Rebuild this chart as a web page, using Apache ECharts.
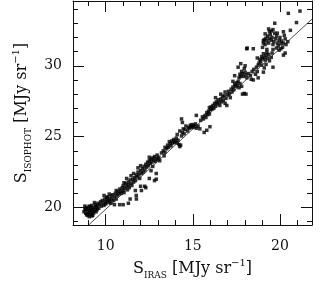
<!DOCTYPE html>
<html>
<head>
<meta charset="utf-8">
<script src="https://cdn.jsdelivr.net/npm/echarts@6/dist/echarts.min.js"></script>
<style>
  html, body { margin: 0; padding: 0; background: #fff; }
  #container { width: 328px; height: 285px; }
</style>
</head>
<body>
<div id="container"></div>
<script>
// axis ranges and ticks
var xRange = [8.12, 21.84];
var yRange = [18.76, 34.57];
var xTickMajor = [10, 15, 20];
var xTickMinor = [9, 11, 12, 13, 14, 16, 17, 18, 19, 21];
var yTickMajor = [20, 25, 30];
var yTickMinor = [19, 21, 22, 23, 24, 26, 27, 28, 29, 31, 32, 33, 34];

// fitted line  S_ISOPHOT = a * S_IRAS + b
var fitSlope = 1.133;
var fitIntercept = 8.55;

// [S_IRAS, S_ISOPHOT]
var points = [
    // low end
    [8.75,19.7],[8.8,19.85],[8.85,19.6],[8.9,20.0],[8.95,19.75],[9.0,19.9],[9.0,19.55],[9.05,20.1],
    [9.1,19.8],[9.1,19.65],[9.15,19.95],[9.2,19.7],[9.2,20.15],[9.25,19.85],[9.3,19.6],[9.3,20.0],
    [9.35,19.75],[9.4,19.9],[9.4,20.2],[9.45,19.7],[9.5,20.05],[9.5,19.85],[9.55,20.3],[8.95,19.45],
    [9.15,19.5],[9.6,19.95],[9.35,20.35],[8.8,20.1],[9.05,19.35],[9.25,19.45],[8.9,19.5],[9.2,19.4],
    [9.45,20.1],[8.85,19.9],[9.1,20.05],
    [9.65,20.2],[9.7,20.4],[9.75,20.1],[9.8,20.5],[9.85,20.3],[9.9,20.15],[9.95,20.6],[10.0,20.4],
    [10.0,20.25],[10.05,20.7],[10.1,20.5],[10.15,20.35],[10.2,20.6],[10.25,20.45],[10.3,20.8],[10.3,20.3],
    [10.35,20.6],[10.4,20.9],[10.45,20.5],[10.5,20.75],[10.55,21.0],[10.6,20.6],[9.9,20.85],[10.2,20.95],
    [10.65,20.85],[10.7,21.1],[10.75,20.95],[10.8,21.3],[10.85,21.15],[10.9,21.0],[10.95,21.4],[11.0,21.2],
    [11.0,21.55],[11.05,21.05],[11.1,21.35],[11.15,21.7],[11.2,21.5],[11.25,21.25],[11.3,21.8],[11.3,21.6],
    [11.35,21.4],[11.4,21.95],[11.45,21.7],[11.5,21.55],[11.55,22.0],[11.6,21.8],[11.2,22.05],[11.45,22.25],
    [11.6,22.4],[10.1,20.75],[10.6,21.2],[11.05,21.75],
    // lower branch
    [10.5,20.2],[10.8,20.2],[11.0,20.2],[11.3,20.3],[11.4,20.6],[11.76,20.6],[11.7,21.2],[12.0,21.5],
    [12.05,21.2],[12.24,21.5],[11.75,20.85],[12.3,21.4],[12.8,21.9],[12.9,22.4],[12.6,22.6],[12.5,22.05],
    [12.9,22.0],
    // middle
    [11.65,22.1],[11.7,21.9],[11.75,22.3],[11.8,22.15],[11.85,22.5],[11.9,22.3],[11.95,22.05],[12.0,22.6],
    [12.05,22.4],[12.1,22.75],[12.15,22.5],[12.2,22.9],[12.25,22.65],[12.3,23.05],[12.35,22.85],[12.4,23.2],
    [12.45,22.95],[12.5,23.3],[12.55,23.1],[12.6,23.4],[11.85,22.8],[12.0,22.95],
    [12.65,23.2],[12.7,23.5],[12.75,23.35],[12.8,23.6],[12.85,23.25],[12.9,23.45],[12.95,23.7],[13.0,23.4],
    [13.05,23.55],[13.1,23.3],[12.7,22.9],[12.5,23.55],
    [13.2,23.85],[13.3,24.0],[13.4,23.9],[13.5,24.15],[13.55,24.4],[13.6,24.25],[13.7,24.5],[13.75,24.35],
    [13.8,24.7],[13.85,24.55],[13.9,24.8],[13.95,24.6],[14.0,24.7],[14.05,24.9],[14.1,24.55],[14.15,24.75],
    [14.2,24.45],[14.25,24.3],[14.3,24.4],[13.4,24.25],[13.65,24.65],[14.1,25.15],[14.25,25.4],[13.35,23.65],
    [14.35,25.05],[14.4,25.3],[14.45,25.55],[14.5,25.2],[14.55,25.5],[14.6,25.75],[14.7,25.4],[14.75,25.65],
    [14.8,25.6],[14.85,25.8],[14.9,25.7],[14.95,25.85],[15.0,25.65],[15.05,25.8],[15.1,25.7],[15.15,25.9],
    [15.2,25.6],[15.3,25.75],[14.4,26.0],[14.35,26.25],[15.4,25.55],[15.65,25.3],[15.8,25.45],[15.98,25.7],
    [15.45,26.15],[15.55,26.4],[15.6,26.25],[15.7,26.5],[15.75,26.35],[15.8,26.7],[15.85,26.55],[15.9,26.8],
    [15.95,26.6],[16.0,26.9],[16.05,27.1],[16.1,26.95],[16.15,27.2],[16.2,27.0],[16.25,27.35],[16.3,27.15],
    [16.35,27.45],[16.4,27.3],[16.45,27.6],[16.5,27.4],[16.55,27.2],[16.6,27.65],[16.65,27.45],[16.7,27.8],
    [16.75,27.55],[16.8,27.9],[16.85,27.35],[16.9,27.7],[16.3,27.75],[15.95,27.05],[16.6,28.0],[16.85,28.15],
    [16.95,27.2],[15.2,26.5],
    // upper middle
    [17.0,27.95],[17.05,28.2],[17.1,28.0],[17.2,28.35],[17.25,28.15],[17.3,28.5],[17.35,28.3],[17.4,28.7],
    [17.45,28.55],[17.5,28.8],[17.55,28.6],[17.6,28.9],[17.65,28.45],[17.7,28.75],[17.8,28.55],[17.85,28.0],
    [17.95,28.05],[17.3,28.9],[17.15,27.75],[18.05,28.0],[18.47,29.0],[17.4,29.3],
    [17.65,29.15],[17.7,29.4],[17.75,29.25],[17.8,29.6],[17.85,29.45],[17.9,29.25],[17.95,29.8],[18.0,29.55],
    [18.05,29.35],[18.1,29.15],[18.2,29.45],[18.3,29.3],[18.4,29.6],[18.5,29.75],[18.6,29.4],[18.65,29.9],
    [18.7,29.6],[18.75,30.05],[18.0,30.0],[17.6,29.9],[18.35,29.05],[18.75,29.15],[17.75,30.15],
    [18.8,30.2],[18.85,30.45],[18.9,30.3],[18.95,30.65],[19.0,30.5],[19.05,30.85],[19.1,30.6],[19.15,30.4],
    [19.2,30.75],[19.25,30.95],[19.3,30.55],[19.35,30.8],[19.4,30.35],[19.5,30.6],[18.95,30.05],[19.2,30.1],
    [19.1,29.85],[19.6,29.9],[19.05,29.55],[18.7,30.55],[19.55,30.9],
    // top
    [19.0,31.3],[19.05,31.6],[19.1,31.85],[19.15,31.5],[19.2,31.95],[19.25,31.75],[19.3,32.1],[19.35,31.6],
    [19.4,31.9],[19.45,32.2],[19.5,31.8],[19.55,32.0],[19.6,31.5],[19.65,31.7],[19.7,32.3],[19.75,31.9],
    [19.8,32.1],[19.85,31.6],[19.9,31.4],[19.95,31.8],[20.0,32.0],[20.05,31.55],[20.1,31.75],[20.15,31.3],
    [20.2,31.6],[20.25,32.15],[20.3,31.9],[19.6,31.15],[19.8,31.25],[19.95,31.1],[20.35,31.5],[19.15,32.25],
    [19.4,32.4],[19.6,32.55],[19.25,31.15],[20.45,31.7],[19.5,32.45],[19.85,32.3],[20.05,31.2],
    [18.09,31.2],[18.12,31.25],[18.47,31.2],[19.05,31.77],[19.35,32.6],[19.7,33.0],[20.2,32.4],[20.48,33.7],
    [20.6,32.5],[20.95,33.05],[21.15,33.86],[20.3,30.9],[20.2,30.75]
];

var fitLine = [
    [xRange[0], fitSlope * xRange[0] + fitIntercept],
    [xRange[1], fitSlope * xRange[1] + fitIntercept]
];

var font = 'DejaVu Serif';
var ink = '#111';

function nameStyle() {
    return {
        fontFamily: font, color: ink,
        rich: {
            s: { fontFamily: font, fontSize: 16, lineHeight: 22, verticalAlign: 'middle', color: ink },
            t: { fontFamily: font, fontSize: 16, lineHeight: 22, verticalAlign: 'middle', color: ink },
            sub: { fontFamily: font, fontSize: 9, lineHeight: 22, verticalAlign: 'bottom', color: ink },
            sup: { fontFamily: font, fontSize: 10, lineHeight: 22, verticalAlign: 'top', color: ink }
        }
    };
}

function xAx(pos, major, withLabel) {
    var a = {
        type: 'value', min: xRange[0], max: xRange[1], position: pos,
        splitLine: { show: false },
        axisLine: { show: major, onZero: false, lineStyle: { color: ink, width: 1 } },
        axisTick: { show: true, inside: true, length: major ? 11 : 5,
            customValues: major ? xTickMajor : xTickMinor, lineStyle: { color: ink, width: 1 } },
        axisLabel: { show: withLabel, customValues: xTickMajor, margin: 14,
            fontFamily: font, fontSize: 14, color: ink }
    };
    if (withLabel) {
        a.name = '{s|S}{sub|IRAS}{t| [MJy sr}{sup|\u22121}{t|]}';
        a.nameLocation = 'middle';
        a.nameGap = 26;
        a.nameTextStyle = nameStyle();
    }
    return a;
}

function yAx(pos, major, withLabel) {
    var a = {
        type: 'value', min: yRange[0], max: yRange[1], position: pos,
        splitLine: { show: false },
        axisLine: { show: major, onZero: false, lineStyle: { color: ink, width: 1 } },
        axisTick: { show: true, inside: true, length: major ? 11 : 5,
            customValues: major ? yTickMajor : yTickMinor, lineStyle: { color: ink, width: 1 } },
        axisLabel: { show: withLabel, customValues: yTickMajor, margin: 11,
            fontFamily: font, fontSize: 14, color: ink }
    };
    if (withLabel) {
        a.name = '{s|S}{sub|ISOPHOT}{t| [MJy sr}{sup|\u22121}{t|]}';
        a.nameLocation = 'middle';
        a.nameRotate = 90;
        a.nameGap = 37;
        a.nameTextStyle = nameStyle();
    }
    return a;
}

var myChart = echarts.init(document.getElementById('container'));
var option = {
    animation: false,
    backgroundColor: '#fff',
    grid: { left: 73, right: 16, top: 1, bottom: 45, containLabel: false },
    xAxis: [
        xAx('bottom', true, true),
        xAx('bottom', false, false),
        xAx('top', true, false),
        xAx('top', false, false)
    ],
    yAxis: [
        yAx('left', true, true),
        yAx('left', false, false),
        yAx('right', true, false),
        yAx('right', false, false)
    ],
    series: [
        {
            type: 'scatter',
            xAxisIndex: 0, yAxisIndex: 0,
            symbol: 'rect',
            symbolSize: 3.5,
            itemStyle: { color: '#000' },
            data: points
        },
        {
            type: 'line',
            xAxisIndex: 0, yAxisIndex: 0,
            showSymbol: false,
            clip: true,
            lineStyle: { color: '#222', width: 0.8 },
            data: fitLine
        }
    ]
};
myChart.setOption(option);
</script>
</body>
</html>
